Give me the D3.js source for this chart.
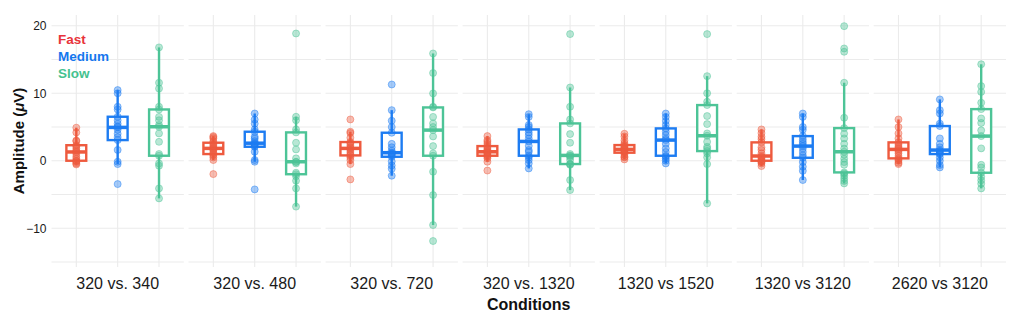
<!DOCTYPE html>
<html>
<head>
<meta charset="utf-8">
<script src="https://cdn.jsdelivr.net/npm/d3@7/dist/d3.min.js"></script>
<style>
  html, body { margin: 0; padding: 0; background: #fff; }
  svg { display: block; font-family: "Liberation Sans", Arial, Helvetica, sans-serif; }
</style>
</head>
<body>
<svg id="chart" width="1021" height="324"></svg>
<script>
// ---------------- DATA ----------------
const conditions = ["320 vs. 340", "320 vs. 480", "320 vs. 720", "320 vs. 1320", "1320 vs 1520", "1320 vs 3120", "2620 vs 3120"];
const speeds = ["Fast", "Medium", "Slow"];
const yTicks = [-10, 0, 10, 20];
const gridValues = [-15, -10, -5, 0, 5, 10, 15, 20];

const fastValues = [
  [-0.55, -0.4, -0.2, -0.05, 0.0, 0.3, 0.6, 1.0, 1.3, 1.5, 1.8, 2.1, 2.3, 2.9, 3.0, 4.2, 4.9],
  [-1.98, 0.1, 0.5, 0.8, 0.99, 1.2, 1.5, 1.7, 1.83, 2.0, 2.2, 2.4, 2.67, 2.9, 3.3, 3.5, 3.65],
  [-2.77, -0.5, 0.1, 0.5, 0.79, 1.0, 1.3, 1.6, 1.83, 2.0, 2.3, 2.6, 2.77, 3.4, 4.1, 4.3, 6.12],
  [-1.45, -0.15, 0.35, 0.6, 0.74, 0.9, 1.1, 1.25, 1.33, 1.5, 1.7, 1.9, 2.17, 2.5, 2.8, 3.06, 3.65],
  [0.2, 0.5, 0.59, 0.9, 1.19, 1.3, 1.45, 1.6, 1.68, 1.8, 1.95, 2.1, 2.32, 2.6, 3.0, 3.6, 4.0],
  [-0.79, -0.4, -0.2, -0.1, 0.0, 0.2, 0.4, 0.55, 0.7, 1.1, 1.6, 1.98, 2.72, 3.2, 3.56, 4.1, 4.64],
  [-0.5, -0.3, 0.0, 0.2, 0.35, 0.7, 1.1, 1.4, 1.68, 1.9, 2.1, 2.4, 2.72, 3.3, 4.05, 5.0, 6.12]
];
const mediumValues = [
  [-3.46, -0.5, -0.15, 1.6, 3.06, 3.5, 4.0, 4.6, 4.94, 5.1, 5.5, 6.0, 6.52, 7.6, 8.0, 10.0, 10.47],
  [-4.25, -0.15, 0.1, 1.33, 2.07, 2.2, 2.4, 2.5, 2.6, 2.9, 3.3, 3.56, 4.3, 4.64, 5.5, 6.1, 7.0],
  [-2.22, -1.2, -0.7, -0.1, 0.59, 0.8, 1.0, 1.1, 1.19, 1.5, 2.0, 2.5, 4.15, 5.0, 5.93, 7.5, 11.3],
  [-1.14, -0.4, 0.1, 0.5, 0.74, 1.3, 1.58, 2.2, 2.86, 3.3, 3.8, 4.2, 4.64, 5.0, 5.3, 6.5, 6.9],
  [-0.4, 0.0, 0.3, 0.6, 0.74, 1.3, 1.83, 2.5, 3.06, 3.3, 3.8, 4.3, 4.79, 5.3, 5.9, 6.5, 7.0],
  [-2.86, -1.5, -0.89, -0.2, 0.44, 0.8, 1.3, 1.8, 2.17, 2.5, 2.8, 3.2, 3.65, 4.6, 5.0, 6.5, 7.0],
  [-0.99, -0.64, 0.0, 0.5, 0.99, 1.1, 1.3, 1.45, 1.58, 2.0, 2.5, 3.31, 5.14, 5.5, 7.0, 7.5, 9.09]
];
const slowValues = [
  [-5.58, -4.1, -0.74, -0.4, 0.74, 1.0, 2.8, 4.05, 5.04, 5.3, 6.0, 6.5, 7.6, 8.0, 10.7, 11.56, 16.8],
  [-6.8, -4.1, -2.96, -2.3, -2.0, -1.78, -0.4, -0.2, -0.15, 0.35, 1.68, 2.67, 4.2, 4.64, 6.0, 6.52, 18.86],
  [-11.9, -9.53, -5.09, -1.63, 0.74, 1.09, 2.17, 3.6, 4.54, 5.0, 5.53, 6.5, 7.9, 8.0, 9.98, 13.0, 15.9],
  [-4.35, -2.86, -0.6, -0.49, -0.49, 0.1, 0.5, 0.7, 0.79, 1.0, 2.67, 3.95, 5.53, 6.12, 8.0, 10.86, 18.77],
  [-6.32, -0.5, 0.5, 1.09, 1.43, 1.8, 2.07, 2.8, 3.7, 4.05, 5.43, 6.62, 8.25, 8.74, 10.0, 12.54, 18.77],
  [-3.36, -3.0, -2.6, -2.2, -1.9, -1.73, -0.6, -0.2, 0.3, 0.9, 1.33, 1.8, 2.5, 3.31, 4.0, 4.84, 6.37, 11.56, 16.15, 16.64, 19.95],
  [-4.1, -3.4, -2.9, -2.37, -1.78, -1.0, -0.6, 1.83, 3.65, 4.5, 5.6, 6.27, 7.65, 8.6, 10.2, 11.06, 14.3]
];

// ---------------- STYLE ----------------
const speedColor = { Fast: "#EE5A3E", Medium: "#1D7CF2", Slow: "#4DC497" };
const legendColor = { Fast: "#E8333A", Medium: "#1577EE", Slow: "#45C28F" };
const valuesBySpeed = { Fast: fastValues, Medium: mediumValues, Slow: slowValues };

const svg = d3.select("#chart");
const plotLeft = 51.5, plotRight = 1006, plotTop = 15, plotBottom = 267;

const y = d3.scaleLinear().domain([-15.75, 21.6]).range([plotBottom, plotTop]);
const panel = d3.scaleBand().domain(conditions).range([plotLeft, plotRight]).paddingInner(0.0343).paddingOuter(0);
const inner = d3.scalePoint().domain(speeds).range([0, panel.bandwidth()]).padding(0.6);
const boxW = inner.step() * 0.48;

function stats(arr) {
  const s = arr.slice().sort(d3.ascending);
  const q1 = d3.quantile(s, 0.25), med = d3.quantile(s, 0.5), q3 = d3.quantile(s, 0.75);
  const iqr = q3 - q1;
  const lo = d3.min(s.filter(v => v >= q1 - 1.5 * iqr));
  const hi = d3.max(s.filter(v => v <= q3 + 1.5 * iqr));
  return { q1, med, q3, lo, hi };
}

// panels
conditions.forEach((cond, ci) => {
  const g = svg.append("g").attr("transform", `translate(${panel(cond)},0)`);
  g.selectAll("line.h").data(gridValues).enter().append("line")
    .attr("x1", 0).attr("x2", panel.bandwidth())
    .attr("y1", d => y(d)).attr("y2", d => y(d))
    .attr("stroke", "#EBEBEB").attr("stroke-width", 1.1);
  g.selectAll("line.v").data(speeds).enter().append("line")
    .attr("x1", d => inner(d)).attr("x2", d => inner(d))
    .attr("y1", plotTop).attr("y2", plotBottom)
    .attr("stroke", "#EBEBEB").attr("stroke-width", 1.1);

  speeds.forEach(sp => {
    const vals = valuesBySpeed[sp][ci];
    const st = stats(vals);
    const cx = inner(sp);
    const col = speedColor[sp];
    const bg = g.append("g");
    bg.append("line").attr("x1", cx).attr("x2", cx).attr("y1", y(st.hi)).attr("y2", y(st.q3))
      .attr("stroke", col).attr("stroke-width", 2.4);
    bg.append("line").attr("x1", cx).attr("x2", cx).attr("y1", y(st.q1)).attr("y2", y(st.lo))
      .attr("stroke", col).attr("stroke-width", 2.4);
    bg.append("rect").attr("x", cx - boxW / 2).attr("width", boxW)
      .attr("y", y(st.q3)).attr("height", y(st.q1) - y(st.q3))
      .attr("fill", "#fff").attr("stroke", col).attr("stroke-width", 2.4);
    bg.append("line").attr("x1", cx - boxW / 2).attr("x2", cx + boxW / 2)
      .attr("y1", y(st.med)).attr("y2", y(st.med))
      .attr("stroke", col).attr("stroke-width", 3.5);
    bg.selectAll("circle").data(vals).enter().append("circle")
      .attr("cx", cx).attr("cy", d => y(d)).attr("r", 3.5)
      .attr("fill", col).attr("fill-opacity", 0.4)
      .attr("stroke", col).attr("stroke-opacity", 0.45).attr("stroke-width", 1);
  });
});

// y axis
const yAxis = svg.append("g").attr("transform", `translate(${plotLeft},0)`)
  .call(d3.axisLeft(y).tickValues(yTicks).tickSize(0).tickPadding(5));
yAxis.select(".domain").remove();
yAxis.selectAll("text").attr("font-size", 12).attr("fill", "#1a1a1a")
  .attr("font-family", "'Liberation Sans', Arial, sans-serif");

// x axis (condition labels)
const xAxis = svg.append("g").attr("transform", `translate(0,${plotBottom})`)
  .call(d3.axisBottom(panel).tickSize(0).tickPadding(10.6));
xAxis.select(".domain").remove();
xAxis.selectAll("text").attr("font-size", 16).attr("fill", "#1a1a1a")
  .attr("font-family", "'Liberation Sans', Arial, sans-serif");

// axis titles
svg.append("text").attr("x", (plotLeft + plotRight) / 2).attr("y", 310)
  .attr("text-anchor", "middle").attr("font-size", 16).attr("font-weight", "bold").attr("fill", "#111")
  .text("Conditions");
const yt = svg.append("text").attr("transform", "translate(24,141) rotate(-90)")
  .attr("text-anchor", "middle").attr("font-size", 15).attr("font-weight", "bold").attr("fill", "#111");
yt.append("tspan").text("Amplitude (");
yt.append("tspan").attr("font-style", "italic").text("μ");
yt.append("tspan").text("V)");

// legend
svg.append("g").selectAll("text").data(speeds).enter().append("text")
  .attr("x", 58).attr("y", (d, i) => 44.3 + i * 17)
  .attr("font-size", 13.5).attr("font-weight", "bold")
  .attr("fill", d => legendColor[d]).text(d => d);
</script>
</body>
</html>
